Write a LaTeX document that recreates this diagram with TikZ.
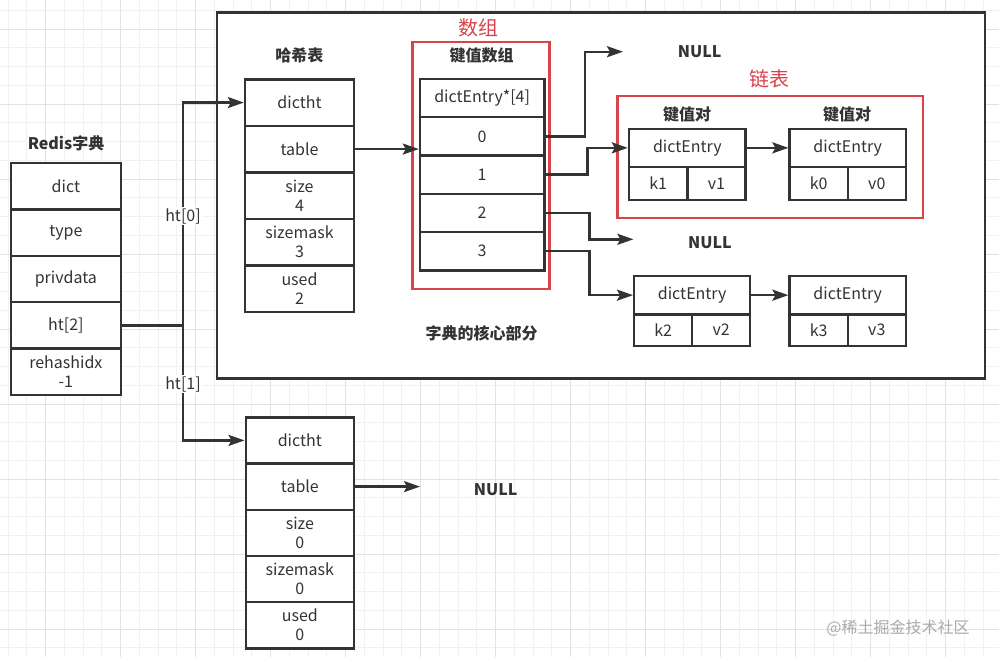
\documentclass[tikz,border=0pt]{standalone}
\usepackage{fontspec}
\setmainfont{Noto Sans CJK SC}
\usetikzlibrary{arrows.meta}
\definecolor{ink}{HTML}{333333}
\definecolor{redbox}{HTML}{D9434B}
\definecolor{gridminor}{HTML}{F1F1F1}
\definecolor{gridmajor}{HTML}{E2E2E2}
\definecolor{wm}{HTML}{ABABAB}
\begin{document}
\begin{tikzpicture}[x=1pt,y=-1pt,
  cell/.style 2 args={draw=ink, line width=2.4pt, fill=white, minimum width=#1, minimum height=#2,
    inner sep=0pt, text=ink, font=\fontsize{16}{19}\selectfont, align=center},
  title/.style={text=ink, font=\fontsize{16}{19}\selectfont\bfseries, inner sep=0pt},
  redlabel/.style={text=redbox, font=\fontsize{20}{24}\selectfont, inner sep=0pt},
  nulltext/.style={text=ink, font=\fontsize{16}{19}\selectfont\bfseries, inner sep=0pt},
  conn/.style={draw=ink, line width=2.4pt},
  arr/.style={conn, -{Stealth[length=16pt,width=11pt,inset=3pt]}},
  htlabel/.style={fill=white, text=ink, font=\fontsize{16}{19}\selectfont, inner sep=1pt},
  redframe/.style={draw=redbox, line width=2.4pt},
  bigframe/.style={draw=ink, line width=2.4pt, fill=white}
]
\useasboundingbox (0,0) rectangle (999,657);
\fill[white] (0,0) rectangle (999,657);
% grid
\foreach \i in {-2,...,51} {\draw[gridminor, line width=1pt] ({45.7+18.75*\i},0) -- ({45.7+18.75*\i},657);}
\foreach \i in {0,...,36} {\draw[gridminor, line width=1pt] (0,{-8.5+18.75*\i}) -- (999,{-8.5+18.75*\i});}
\foreach \i in {-1,...,13} {\draw[gridmajor, line width=1pt] ({45.7+75*\i},0) -- ({45.7+75*\i},657);}
\foreach \i in {0,...,9} {\draw[gridmajor, line width=1pt] (0,{29+75*\i}) -- (999,{29+75*\i});}

% big frame
\draw[bigframe] (216.7,12.3) rectangle (984.8,378.3);

% left dict
\node[title] (redis) at (66,143) {Redis字典};
\node[cell={109.7pt}{46.4pt}] (dict) at (65.85,186.2) {dict};
\node[cell={109.7pt}{46.4pt}] (type) at (65.85,232.6) {type};
\node[cell={109.7pt}{46.4pt}] (priv) at (65.85,279.0) {privdata};
\node[cell={109.7pt}{46.4pt}] (ht2) at (65.85,325.4) {ht[2]};
\node[cell={109.7pt}{46.4pt}] (rehash) at (65.85,371.8) {rehashidx\\-1};

% top dictht
\node[title] (hashtitle) at (299.3,55.7) {哈希表};
\node[cell={109pt}{46.5pt}] (dtA) at (299.5,102.55) {dictht};
\node[cell={109pt}{46.5pt}] (tabA) at (299.5,149.05) {table};
\node[cell={109pt}{46.5pt}] (sizeA) at (299.5,195.55) {size\\4};
\node[cell={109pt}{46.5pt}] (maskA) at (299.5,242.05) {sizemask\\3};
\node[cell={109pt}{46.5pt}] (usedA) at (299.5,288.55) {used\\2};

% bottom dictht
\node[cell={108.3pt}{46.2pt}] (dtB) at (299.85,440.4) {dictht};
\node[cell={108.3pt}{46.2pt}] (tabB) at (299.85,486.6) {table};
\node[cell={108.3pt}{46.2pt}] (sizeB) at (299.85,532.8) {size\\0};
\node[cell={108.3pt}{46.2pt}] (maskB) at (299.85,579.0) {sizemask\\0};
\node[cell={108.3pt}{46.2pt}] (usedB) at (299.85,625.2) {used\\0};

% array
\draw[redframe] (412.6,42) rectangle (549.3,289);
\node[redlabel] (arrlabel) at (478.5,28) {数组};
\node[title] (arrtitle) at (481.5,55) {键值数组};
\node[cell={124.3pt}{38.26pt}] (ahead) at (482.15,98.13) {dictEntry*[4]};
\node[cell={124.3pt}{38.26pt}] (a0) at (482.15,136.39) {0};
\node[cell={124.3pt}{38.26pt}] (a1) at (482.15,174.65) {1};
\node[cell={124.3pt}{38.26pt}] (a2) at (482.15,212.91) {2};
\node[cell={124.3pt}{38.26pt}] (a3) at (482.15,251.17) {3};

% linked list frame
\draw[redframe] (617.4,95.7) rectangle (922.8,217.7);
\node[redlabel] (listlabel) at (769,79) {链表};
\node[title] (kv1) at (687,114) {键值对};
\node[title] (kv2) at (847,114) {键值对};

% entries
\node[cell={116.6pt}{37.7pt}] (e1) at (687.3,147.85) {dictEntry};
\node[cell={58.3pt}{33.3pt}] (k1) at (658.15,183.35) {k1};
\node[cell={58.3pt}{33.3pt}] (v1) at (716.45,183.35) {v1};
\node[cell={116.3pt}{37.7pt}] (e2) at (847.75,147.85) {dictEntry};
\node[cell={58.15pt}{33.3pt}] (k0) at (818.68,183.35) {k0};
\node[cell={58.15pt}{33.3pt}] (v0) at (876.83,183.35) {v0};
\node[cell={116pt}{38.3pt}] (e3) at (692.2,295.15) {dictEntry};
\node[cell={58pt}{31.4pt}] (k2) at (663.2,330) {k2};
\node[cell={58pt}{31.4pt}] (v2) at (721.2,330) {v2};
\node[cell={116.3pt}{38.3pt}] (e4) at (847.75,295.15) {dictEntry};
\node[cell={58.15pt}{31.4pt}] (k3) at (818.68,330) {k3};
\node[cell={58.15pt}{31.4pt}] (v3) at (876.83,330) {v3};

\node[title] (core) at (481.5,333.3) {字典的核心部分};

% NULLs
\node[nulltext] (null1) at (699.7,52) {NULL};
\node[nulltext] (null2) at (710,242.3) {NULL};
\node[nulltext] (null3) at (495.7,489.3) {NULL};
\coordinate (n1tip) at (623,51.7);
\coordinate (n2tip) at (633.4,239.3);
\coordinate (n3tip) at (420,486.6);

% connectors
\coordinate (J) at (182.7,325.4);
\draw[conn] (ht2.east) -- (J);
\draw[arr] (J) |- (dtA.west);
\draw[arr] (J) |- (dtB.west);
\node[htlabel] (ht0lbl) at (183,216) {ht[0]};
\node[htlabel] (ht1lbl) at (183,384) {ht[1]};

\draw[arr] (tabA.east) -- (tabA.east -| a0.west);
\draw[arr] (a0.east) -- ++(39.4,0) |- (n1tip);
\draw[arr] (a1.east) -- ++(42.1,0) |- (e1.west);
\draw[arr] (a2.east) -- ++(44,0) |- (n2tip);
\draw[arr] (a3.east) -- ++(44,0) |- (e3.west);
\draw[arr] (e1.east) -- (e2.west);
\draw[arr] (e3.east) -- (e4.west);
\draw[arr] (tabB.east) -- (n3tip);

% watermark
\node[text=wm, font=\fontsize{16}{19}\selectfont, inner sep=0pt] (wmark) at (898,628) {@稀土掘金技术社区};
\end{tikzpicture}
\end{document}
